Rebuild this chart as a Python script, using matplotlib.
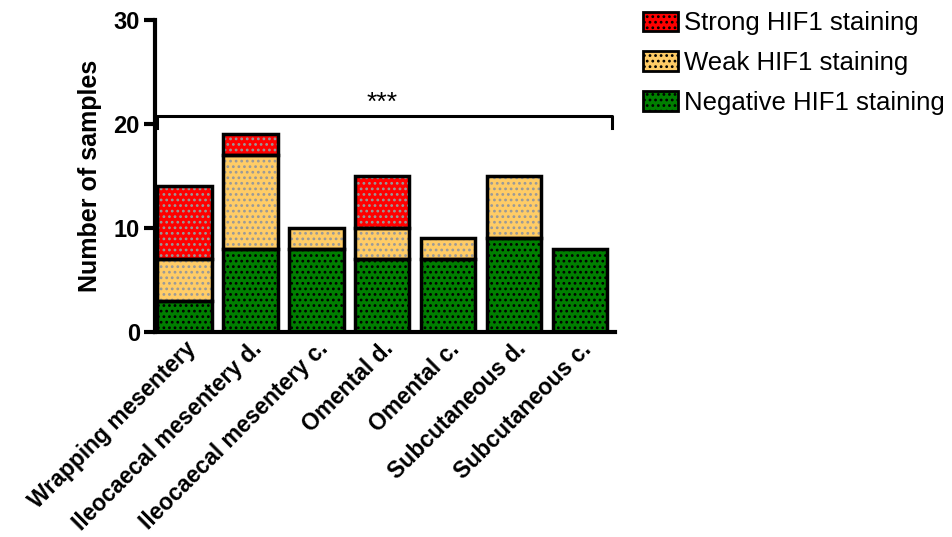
import matplotlib
matplotlib.use("Agg")
import matplotlib.pyplot as plt
from matplotlib.patches import Patch
import numpy as np

plt.rcParams['font.family'] = ['Liberation Sans', 'DejaVu Sans']
plt.rcParams['hatch.linewidth'] = 1.2

categories = ["Wrapping mesentery", "Ileocaecal mesentery d.", "Ileocaecal mesentery c.",
              "Omental d.", "Omental c.", "Subcutaneous d.", "Subcutaneous c."]
negative = [3, 8, 8, 7, 7, 9, 8]
weak = [4, 9, 2, 3, 2, 6, 0]
strong = [7, 2, 0, 5, 0, 0, 0]

series = [
    ("Negative HIF1 staining", negative, "#007f00", "black"),
    ("Weak HIF1 staining", weak, "#ffcc66", "#999999"),
    ("Strong HIF1 staining", strong, "#ff0000", "#999999"),
]

fig = plt.figure(figsize=(9.52, 5.37), dpi=100)
ax = fig.add_axes([0.163, 0.382, 0.483, 0.581])

x = np.arange(len(categories))
width = 0.83
bottom = np.zeros(len(categories))
handles = []
for label, vals, face, dots in series:
    vals = np.array(vals, dtype=float)
    mask = vals > 0
    ax.bar(x[mask], vals[mask], width, bottom=bottom[mask], color=face,
           edgecolor=dots, hatch='...', linewidth=0, zorder=2)
    ax.bar(x[mask], vals[mask], width, bottom=bottom[mask], fill=False,
           edgecolor='black', linewidth=2.5, zorder=3)
    handles.append(Patch(facecolor=face, edgecolor='black', hatch='...', linewidth=2))
    bottom += vals

ax.set_xlim(-0.44, 6.53)
ax.set_ylim(0, 30)
ax.set_yticks([0, 10, 20, 30])
ax.set_xticks(x)
ax.set_xticklabels(categories, rotation=45, ha='right', rotation_mode='anchor',
                   fontsize=16.5, fontweight='bold')
for t in ax.get_yticklabels():
    t.set_fontweight('bold')
    t.set_fontsize(17)
ax.tick_params(axis='y', width=3, length=8, direction='out', pad=3)
ax.tick_params(axis='x', length=0, pad=4)
ax.set_ylabel("Number of samples", fontsize=18, fontweight='bold', labelpad=8)
for side in ['top', 'right']:
    ax.spines[side].set_visible(False)
for side in ['left', 'bottom']:
    ax.spines[side].set_linewidth(3)

# significance bracket across all groups
y_br = 20.8
ax.plot([-0.41, -0.41, 6.48, 6.48], [19.6, y_br, y_br, 19.6], color='black',
        linewidth=2.2, clip_on=False, zorder=4)
ax.text(3.0, y_br + 0.1, "***", ha='center', va='bottom', fontsize=19)

legend_order = [handles[2], handles[1], handles[0]]
legend_labels = [series[2][0], series[1][0], series[0][0]]
fig.legend(legend_order, legend_labels, loc='upper left', bbox_to_anchor=(0.651, 1.022),
           frameon=False, fontsize=18.5, handlelength=1.35, handleheight=0.8,
           labelspacing=0.62, handletextpad=0.25)

fig.savefig("out.png", dpi=100)
